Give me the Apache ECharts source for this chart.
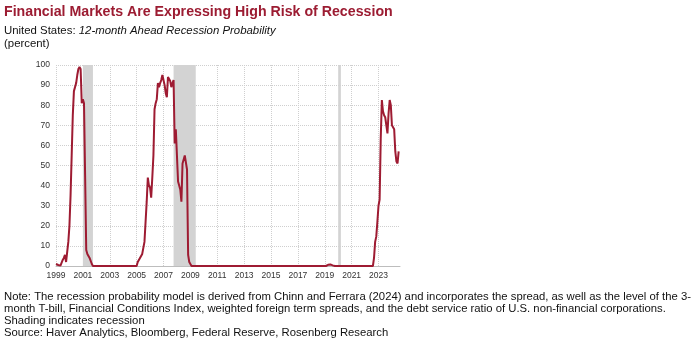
<!DOCTYPE html>
<html>
<head>
<meta charset="utf-8">
<script src="https://cdn.jsdelivr.net/npm/echarts@6/dist/echarts.min.js"></script>
<style>
  html, body { margin: 0; padding: 0; background: #ffffff; }
  #chart { width: 700px; height: 348px; }
</style>
</head>
<body>
<div id="chart"></div>
<script>
// Monthly 12-month-ahead recession probability (percent); flat stretches kept as endpoints
const months = [
  '1999-01','1999-02','1999-03','1999-04','1999-05','1999-06','1999-07','1999-08','1999-09','1999-10','1999-11','1999-12',
  '2000-01','2000-02','2000-03','2000-04','2000-05','2000-06','2000-07','2000-08','2000-09','2000-10','2000-11','2000-12',
  '2001-01','2001-02','2001-03','2001-04','2001-05','2001-06','2001-07','2001-08','2001-09','2001-10',
  '2005-01','2005-02','2005-03','2005-04','2005-05','2005-06','2005-07','2005-08','2005-09','2005-10','2005-11','2005-12',
  '2006-01','2006-02','2006-03','2006-04','2006-05','2006-06','2006-07','2006-08','2006-09','2006-10','2006-11','2006-12',
  '2007-01','2007-02','2007-03','2007-04','2007-05','2007-06','2007-07','2007-08','2007-09','2007-10','2007-11','2007-12',
  '2008-01','2008-02','2008-03','2008-04','2008-05','2008-06','2008-07','2008-08','2008-09','2008-10','2008-11','2008-12',
  '2009-01','2009-02',
  '2019-02','2019-04','2019-06','2019-08','2019-10',
  '2022-08','2022-09','2022-10','2022-11','2022-12',
  '2023-01','2023-02','2023-03','2023-04','2023-05','2023-06','2023-07','2023-08','2023-09','2023-10','2023-11','2023-12',
  '2024-01','2024-02','2024-03','2024-04','2024-05','2024-06','2024-07'
];
const probability = [
  1, 0.8, 0.5, 0.3, 0.2, 0.5, 3, 4, 5.5, 2, 7, 12,
  20, 35, 55, 75, 87, 89, 91, 95, 98, 99, 98, 81,
  83, 81, 45, 8, 6, 6, 4, 3.5, 1, 0,
  0, 2, 3, 4, 5, 6, 6.5, 12, 22, 32, 44, 40,
  39, 34, 44, 55, 78, 81, 83, 91, 89, 91, 92.5, 95,
  95, 90, 86, 84, 94, 93, 92, 89, 91, 92.5, 61, 68,
  68, 42, 40, 38, 32, 51, 51, 55, 55, 48, 5.5, 2,
  1.5, 0,
  0, 0.6, 0.8, 0.3, 0,
  0, 4, 12, 14.6, 22,
  30, 33, 63.5, 82.6, 77, 75, 74, 73.5, 66, 76, 82.6, 80,
  70, 69, 68, 57, 52, 51, 57
];
// Shaded recession spans, in decimal years
const recessions = [[2001.0, 2001.75], [2007.75, 2009.4], [2020.0, 2020.2]];
const yearTicks = [1999, 2001, 2003, 2005, 2007, 2009, 2011, 2013, 2015, 2017, 2019, 2021, 2023];
const percentTicks = [0, 10, 20, 30, 40, 50, 60, 70, 80, 90, 100];

const titleText = 'Financial Markets Are Expressing High Risk of Recession';
const subtitleCountry = 'United States: ';
const subtitleSeries = '12-month Ahead Recession Probability';
const unitText = '(percent)';
const noteLines = [
  'Note: The recession probability model is derived from Chinn and Ferrara (2024) and incorporates the spread, as well as the level of the 3-',
  'month T-bill, Financial Conditions Index, weighted foreign term spreads, and the debt service ratio of U.S. non-financial corporations.',
  'Shading indicates recession',
  'Source: Haver Analytics, Bloomberg, Federal Reserve, Rosenberg Research'
];

const FONT = '"Liberation Sans", Arial, Helvetica, sans-serif';
const toYear = s => { const [y, m] = s.split('-').map(Number); return y + (m - 1) / 12; };
const seriesData = months.map((m, i) => [toYear(m), probability[i]]);

const chart = echarts.init(document.getElementById('chart'), null, { renderer: 'canvas' });
chart.setOption({
  animation: false,
  backgroundColor: '#ffffff',
  textStyle: { fontFamily: FONT },
  title: [
    {
      text: titleText, left: 4, top: 5, padding: 0,
      textStyle: { fontFamily: FONT, fontSize: 14.2, fontWeight: 'bold', lineHeight: 15, color: '#9c1c32' }
    },
    {
      text: '{a|' + subtitleCountry + '}{b|' + subtitleSeries + '}\n{a|' + unitText + '}',
      left: 4, top: 25, padding: 0,
      textStyle: {
        fontFamily: FONT, fontSize: 11.4, fontWeight: 'normal', lineHeight: 12.5, color: '#111',
        rich: {
          a: { fontFamily: FONT, fontSize: 11.4, fontWeight: 'normal', lineHeight: 12.5, color: '#111' },
          b: { fontFamily: FONT, fontSize: 11.4, fontWeight: 'normal', lineHeight: 12.5, color: '#111', fontStyle: 'italic' }
        }
      }
    },
    {
      text: noteLines.join('\n'), left: 4, top: 291, padding: 0,
      textStyle: { fontFamily: FONT, fontSize: 11.3, fontWeight: 'normal', lineHeight: 12, color: '#111' }
    }
  ],
  grid: { left: 56, right: 300, top: 65, bottom: 82, containLabel: false },
  xAxis: {
    type: 'value',
    min: yearTicks[0], max: 2024.6, interval: 2,
    axisLine: { show: true, lineStyle: { color: '#bdbdbd', width: 1 } },
    axisTick: { show: false },
    axisLabel: {
      fontFamily: FONT, fontSize: 8.5, color: '#333', margin: 5,
      showMaxLabel: false,
      formatter: v => (yearTicks.includes(v) ? String(v) : '')
    },
    splitLine: { show: true, showMaxLine: false, lineStyle: { color: '#cfcfcf', type: 'dotted', width: 1 } }
  },
  yAxis: {
    type: 'value',
    min: percentTicks[0], max: percentTicks[percentTicks.length - 1], interval: 10,
    axisLine: { show: false },
    axisTick: { show: false },
    axisLabel: { fontFamily: FONT, fontSize: 8.5, color: '#333', margin: 6 },
    splitLine: { show: true, lineStyle: { color: '#cfcfcf', type: 'dotted', width: 1 } }
  },
  series: [
    {
      name: 'Recession',
      type: 'line',
      data: [],
      z: 1,
      silent: true,
      markArea: {
        silent: true,
        itemStyle: { color: '#d3d3d3', opacity: 1 },
        data: recessions.map(r => [{ xAxis: r[0] }, { xAxis: r[1] }])
      }
    },
    {
      name: 'Recession Probability',
      type: 'line',
      data: seriesData,
      z: 3,
      showSymbol: false,
      smooth: false,
      lineStyle: { color: '#9e1b32', width: 2 },
      itemStyle: { color: '#9e1b32' }
    }
  ]
});
</script>
</body>
</html>
